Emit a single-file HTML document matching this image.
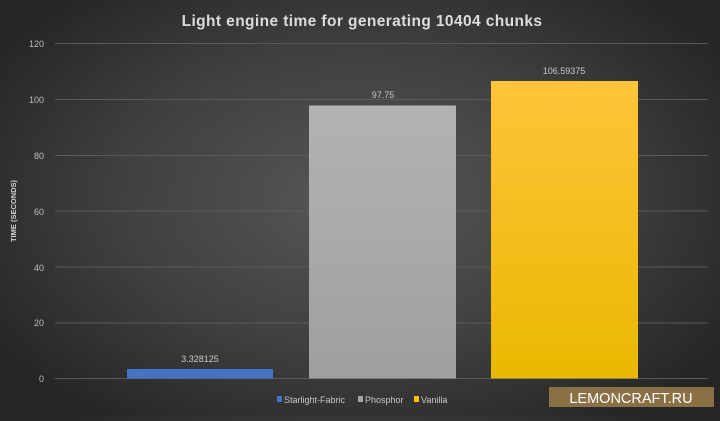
<!DOCTYPE html>
<html><head><style>
html,body{margin:0;padding:0;}
body{width:720px;height:416px;overflow:hidden;background:radial-gradient(ellipse 60% 65% at 50% 48%,#575757 0%,#404040 55%,#262626 100%);font-family:"Liberation Sans",sans-serif;}
</style></head><body>
<svg width="720" height="416" xmlns="http://www.w3.org/2000/svg" font-family="Liberation Sans, sans-serif">
<defs>
<linearGradient id="y" x1="0" y1="0" x2="0" y2="1"><stop offset="0" stop-color="#fec43a"/><stop offset="1" stop-color="#e9b800"/></linearGradient>
<linearGradient id="g" x1="0" y1="0" x2="0" y2="1"><stop offset="0" stop-color="#b3b3b3"/><stop offset="1" stop-color="#9f9f9f"/></linearGradient>
</defs>
<text x="362" y="26" text-anchor="middle" fill="#dcdcdc" font-size="15.5" font-weight="bold" letter-spacing="0.4">Light engine time for generating 10404 chunks</text>
<g stroke="#5a5a5a" stroke-width="1">
<line x1="55" x2="708" y1="43.5" y2="43.5"/>
<line x1="55" x2="708" y1="99.5" y2="99.5"/>
<line x1="55" x2="708" y1="155.5" y2="155.5"/>
<line x1="55" x2="708" y1="211" y2="211"/>
<line x1="55" x2="708" y1="267" y2="267"/>
<line x1="55" x2="708" y1="323" y2="323"/>
<line x1="55" x2="708" y1="378.5" y2="378.5"/>
</g>
<g fill="#bdbdbd" font-size="9" text-anchor="end">
<text x="44" y="47">120</text><text x="44" y="103">100</text><text x="44" y="159">80</text>
<text x="44" y="215">60</text><text x="44" y="271">40</text><text x="44" y="326">20</text><text x="44" y="382">0</text>
</g>
<text transform="translate(16,211) rotate(-90)" text-anchor="middle" fill="#d0d0d0" font-size="7.5" font-weight="bold">TIME (SECONDS)</text>
<rect x="127" y="369" width="146" height="9.5" fill="#4472c4"/>
<rect x="309" y="105.5" width="147" height="273" fill="url(#g)"/>
<rect x="491" y="81" width="147" height="297.5" fill="url(#y)"/>
<g fill="#c8c8c8" font-size="9" text-anchor="middle">
<text x="200" y="362">3.328125</text>
<text x="383" y="98">97.75</text>
<text x="564" y="74">106.59375</text>
</g>
<g font-size="9" fill="#c8c8c8">
<rect x="277" y="396" width="5" height="6" fill="#4472c4"/><text x="284" y="403">Starlight-Fabric</text>
<rect x="358" y="396" width="5" height="6" fill="#a5a5a5"/><text x="365" y="403">Phosphor</text>
<rect x="414" y="396" width="5" height="6" fill="#ffc000"/><text x="421" y="403">Vanilla</text>
</g>
<rect x="549" y="387" width="165" height="20" fill="#8c7045"/>
<text x="631" y="403" text-anchor="middle" fill="#ffffff" font-size="14.5">LEMONCRAFT.RU</text>
</svg>
</body></html>
